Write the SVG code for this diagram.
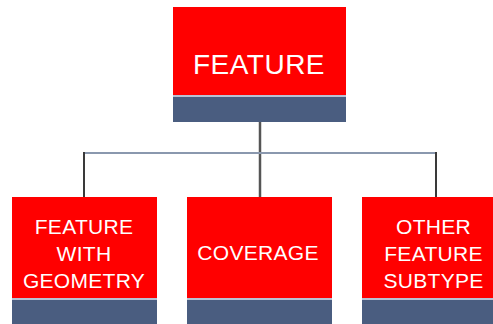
<svg xmlns="http://www.w3.org/2000/svg" width="493" height="324" viewBox="0 0 493 324">
  <style>
    .head { fill: #ff0000; }
    .foot { fill: #4a5d80; }
    .sep { fill: #b8c2d4; }
    .lbl { font-family: "Liberation Sans", Arial, sans-serif; fill: #ffffff; text-anchor: middle; }
    .big { font-size: 28px; letter-spacing: 0.5px; }
    .small { font-size: 21px; letter-spacing: 0.3px; }
    .trunk { stroke: #555555; stroke-width: 2.5; fill: none; }
    .bar { stroke: #8a98ae; stroke-width: 2; fill: none; }
    .drop { stroke: #3a3a3a; stroke-width: 2; fill: none; }
  </style>
  <rect width="493" height="324" fill="#ffffff"/>

  <g id="connectors">
    <line class="trunk" x1="260" y1="121" x2="260" y2="197"/>
    <line class="bar" x1="84" y1="153" x2="436" y2="153"/>
    <line class="drop" x1="84" y1="152" x2="84" y2="197"/>
    <line class="drop" x1="436" y1="152" x2="436" y2="197"/>
  </g>

  <g id="feature">
    <rect class="head" x="173" y="7" width="173" height="88"/>
    <rect class="sep" x="173" y="95" width="173" height="2"/>
    <rect class="foot" x="173" y="97" width="173" height="25"/>
    <text class="lbl big" x="259" y="74">FEATURE</text>
  </g>

  <g id="feature-with-geometry">
    <rect class="head" x="12" y="197" width="145" height="101"/>
    <rect class="sep" x="12" y="298" width="145" height="2"/>
    <rect class="foot" x="12" y="300" width="145" height="24"/>
    <text class="lbl small" x="84" y="234">FEATURE</text>
    <text class="lbl small" x="84" y="261">WITH</text>
    <text class="lbl small" x="84" y="288">GEOMETRY</text>
  </g>

  <g id="coverage">
    <rect class="head" x="187" y="197" width="145" height="101"/>
    <rect class="sep" x="187" y="298" width="145" height="2"/>
    <rect class="foot" x="187" y="300" width="145" height="24"/>
    <text class="lbl small" x="258" y="260">COVERAGE</text>
  </g>

  <g id="other-feature-subtype">
    <rect class="head" x="362" y="197" width="131" height="101"/>
    <rect class="sep" x="362" y="298" width="131" height="2"/>
    <rect class="foot" x="362" y="300" width="131" height="24"/>
    <text class="lbl small" x="433.5" y="234">OTHER</text>
    <text class="lbl small" x="433.5" y="261">FEATURE</text>
    <text class="lbl small" x="433.5" y="288">SUBTYPE</text>
  </g>
</svg>
